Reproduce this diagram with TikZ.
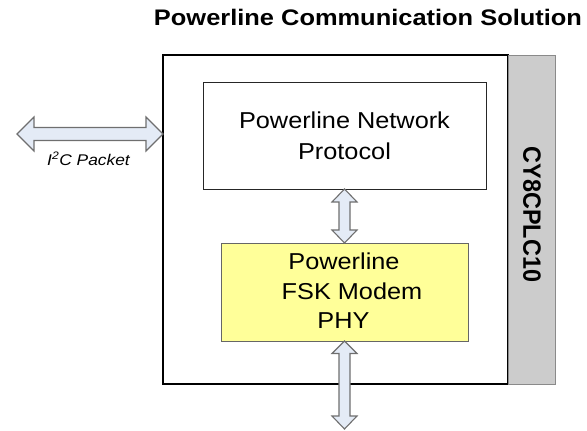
\documentclass[tikz,border=0pt]{standalone}
\usepackage{fontspec}
\setmainfont{Liberation Sans}
\usetikzlibrary{calc}
\newcommand\hs[2][1.1]{\scalebox{#1}[1]{#2}}
\definecolor{arrowfill}{HTML}{E4EBF6}
\definecolor{arrowdraw}{HTML}{6F6F6F}
\definecolor{phyfill}{HTML}{FFFF99}
\definecolor{stripfill}{HTML}{CCCCCC}
\definecolor{stripdraw}{HTML}{8A8A8A}
\begin{document}
\begin{tikzpicture}[x=1pt,y=-1pt,
  blockarrow/.style={fill=arrowfill, draw=arrowdraw, line width=1.1pt, line join=miter},
  boxtext/.style={font=\fontsize{23}{27}\selectfont, inner sep=0pt, anchor=base},
  plainbox/.style={inner sep=0pt, outer sep=0pt}]
\useasboundingbox (0,0) rectangle (587,431);
% outer chip box
\node[plainbox, draw=black, line width=1.9pt, minimum width=345pt, minimum height=329pt] (outer) at (335.5,219.5) {};
% grey strip
\node[plainbox, fill=stripfill, draw=stripdraw, line width=0.8pt, minimum width=47pt, minimum height=329pt] (strip) at (531.5,219.5) {};
\node[inner sep=0pt, rotate=-90, font=\bfseries\fontsize{23.4}{28}\selectfont] (chip) at (532,214.5) {\scalebox{1}[1.07]{CY8CPLC10}};
% protocol box
\node[plainbox, draw=black!85, line width=1pt, minimum width=283pt, minimum height=107pt] (net) at (344.5,135.5) {};
\node[boxtext] (net1) at (344.5,128) {\hs{Powerline Network}};
\node[boxtext] (net2) at (344.5,159) {\hs{Protocol}};
% PHY box
\node[plainbox, fill=phyfill, draw=black!60, line width=1pt, minimum width=247pt, minimum height=98pt] (phy) at (344.5,292) {};
\node[boxtext] (phy1) at (344,269) {\hs{Powerline}};
\node[boxtext] (phy2) at (352,299) {\hs{FSK Modem}};
\node[boxtext] (phy3) at (343.5,328) {\hs{PHY}};
% title
\node[inner sep=0pt, anchor=base, font=\bfseries\fontsize{22.5}{26}\selectfont] (title) at (368,25) {\hs[1.13]{Powerline Communication Solution}};
% free ends
\coordinate (lend) at (17,134);
\coordinate (bend) at (344.5,429);
% left I2C arrow
\draw[blockarrow] (lend) -- ++(17,-17) -- ++(0,10.5) -- ($(outer.west |- lend)+(-17,-6.5)$) -- ++(0,-10.5)
  -- (outer.west |- lend) -- ++(-17,17) -- ++(0,-10.5) -- ($(lend)+(17,6.5)$) -- ++(0,10.5) -- cycle;
\node[inner sep=0pt, anchor=base, font=\itshape\fontsize{15.5}{18}\selectfont] (i2c) at (88.5,165) {\hs[1.12]{I\textsuperscript{2}C Packet}};
% arrow between boxes
\draw[blockarrow] (net.south) -- ++(12.5,13) -- ++(-7,0) -- ($(phy.north)+(5.5,-13)$) -- ++(7,0)
  -- (phy.north) -- ++(-12.5,-13) -- ++(7,0) -- ($(net.south)+(-5.5,13)$) -- ++(-7,0) -- cycle;
% bottom arrow
\draw[blockarrow] (phy.south) -- ++(12.5,12.5) -- ++(-7,0) -- ($(bend)+(5.5,-13)$) -- ++(7,0)
  -- (bend) -- ++(-12.5,-13) -- ++(7,0) -- ($(phy.south)+(-5.5,12.5)$) -- ++(-7,0) -- cycle;
\end{tikzpicture}
\end{document}
